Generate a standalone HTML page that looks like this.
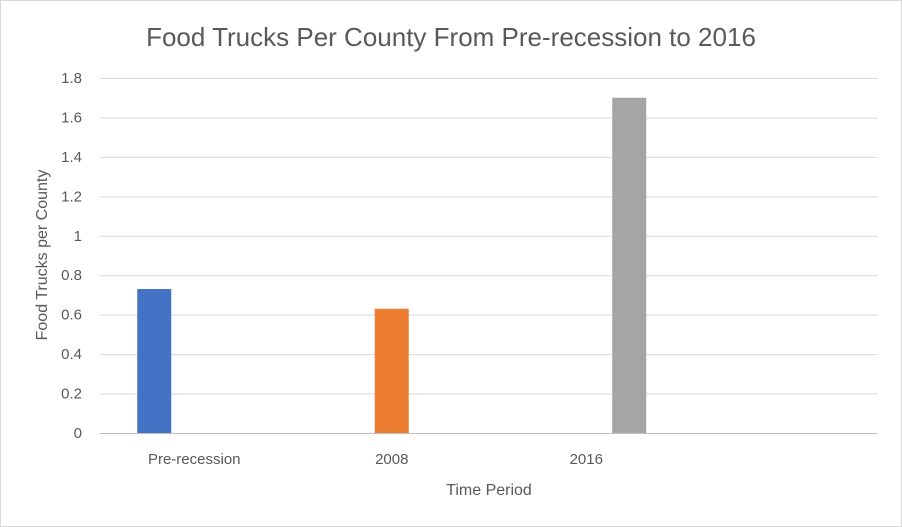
<!DOCTYPE html>
<html><head><meta charset="utf-8"><style>
body{margin:0;background:#fff;}
svg{display:block;font-family:"Liberation Sans",sans-serif;}
</style></head><body>
<svg id="chart" width="902" height="527">
<rect x="0.5" y="0.5" width="901" height="526" fill="#fff" stroke="#d9d9d9"/>
<text x="451" y="46" text-anchor="middle" font-size="26" fill="#595959">Food Trucks Per County From Pre-recession to 2016</text>
<text transform="translate(47,255) rotate(-90)" text-anchor="middle" font-size="16" fill="#595959">Food Trucks per County</text>
<text x="489" y="495" text-anchor="middle" font-size="16" fill="#595959">Time Period</text>
<g id="grid"></g><g id="bars"></g><g id="labels"></g>
</svg>
<script>
const categories = ["Pre-recession","2008","2016",""];
const seriesNames = ["Pre-recession","2008","2016"];
const seriesValues = [[0.73,0,0,0],[0,0.63,0,0],[0,0,1.70,0]];
const seriesColors = ["#4472c4","#ed7d31","#a5a5a5"];
const yTicks = [0,0.2,0.4,0.6,0.8,1,1.2,1.4,1.6,1.8];
const yTickLabels = ["0","0.2","0.4","0.6","0.8","1","1.2","1.4","1.6","1.8"];

const NS="http://www.w3.org/2000/svg";
const x0=100,x1=878,yBase=433,yTop=78,yMax=1.8;
const y=v=>yBase-(v/yMax)*(yBase-yTop);
const catW=(x1-x0)/categories.length;
const xc=i=>x0+catW*(i+0.5);
const barW=34, gap=43;
function mk(t,a){const e=document.createElementNS(NS,t);for(const k in a)e.setAttribute(k,a[k]);return e;}
const grid=document.getElementById('grid'),bars=document.getElementById('bars'),labels=document.getElementById('labels');
yTicks.forEach((t,i)=>{
  const l=mk('line',{x1:x0,x2:x1,y1:y(t)+0.5,y2:y(t)+0.5,stroke:t===0?'#bfbfbf':'#d9d9d9','stroke-width':1});
  
  
  grid.appendChild(l);
  const tx=mk('text',{x:82,y:y(t)+5,'text-anchor':'end','font-size':15,fill:'#595959'});
  tx.textContent=yTickLabels[i];
  
  
  labels.appendChild(tx);
});
categories.forEach((c,i)=>{
  if(!c) return;
  const tx=mk('text',{x:xc(i)-(i===0?3:0),y:464,'text-anchor':'middle','font-size':15,fill:'#595959'});
  tx.textContent=c;
  
  
  labels.appendChild(tx);
});
seriesValues.forEach((vals,s)=>{
  vals.forEach((v,i)=>{
    if(!v) return;
    const cx=xc(i)+(s-1)*gap;
    const r=mk('rect',{x:cx-barW/2,y:y(v),width:barW,height:yBase-y(v),fill:seriesColors[s]});
    
    
    bars.appendChild(r);
  });
});
</script>
</body></html>
